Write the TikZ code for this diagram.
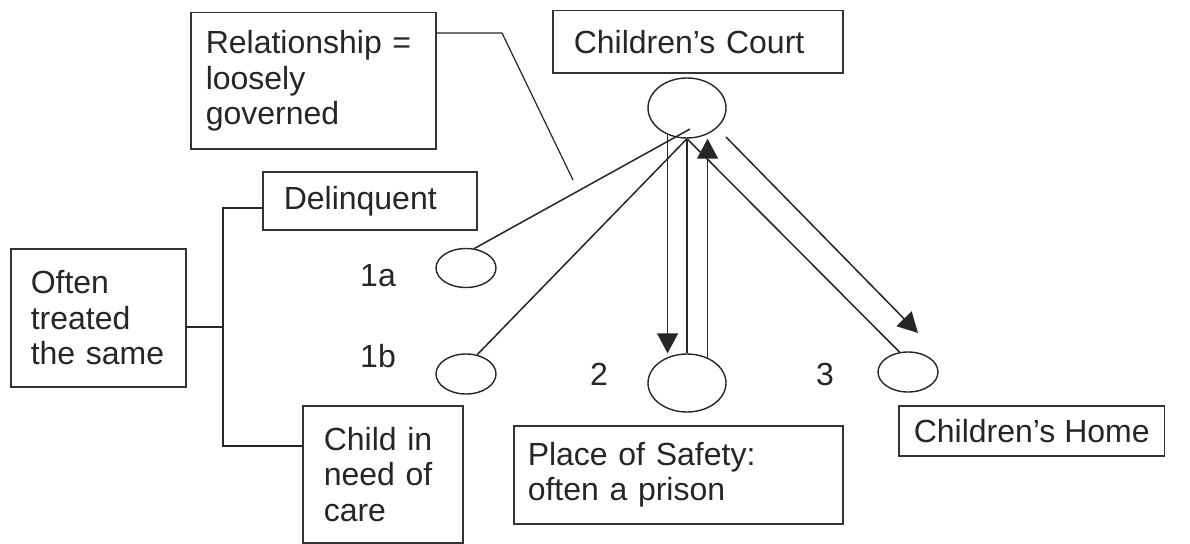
\documentclass[tikz,border=0pt]{standalone}
\usepackage{fontspec}
\setmainfont{Liberation Sans}
\usetikzlibrary{arrows.meta,shapes.geometric}
\begin{document}
\begin{tikzpicture}[x=1pt,y=-1pt,
  box/.style={draw=black!80, line width=1.5pt, rectangle, anchor=north west,
    align=left, inner ysep=0pt, text=black!85,
    font=\fontsize{32}{35.5}\selectfont},
  ell/.style={draw=black!85, line width=1.4pt, ellipse, inner sep=0pt},
  conn/.style={draw=black!85, line width=1.5pt},
  arr/.style={conn, -{Triangle[width=21pt,length=20pt]}},
  num/.style={text=black!85, font=\fontsize{32}{35.5}\selectfont}]
\useasboundingbox (0,0) rectangle (1190,543);

% text boxes
\node[box, minimum width=245, minimum height=136, inner xsep=15, text width=215] (rel) at (190,12)
  {Relationship =\\loosely\\governed};
\node[box, minimum width=290, minimum height=62, inner xsep=21, text width=248] (court) at (552,10)
  {Children's Court};
\node[box, minimum width=214, minimum height=58, inner xsep=21, text width=172] (delinq) at (262,171)
  {Delinquent};
\node[box, minimum width=175, minimum height=138, inner xsep=20, text width=135] (often) at (10,248)
  {Often\\treated\\the same};
\node[box, minimum width=160, minimum height=137, inner xsep=21, text width=118] (child) at (302,405)
  {Child in\\need of\\care};
\node[box, minimum width=329, minimum height=98, inner xsep=14, text width=301] (safety) at (513,425)
  {Place of Safety:\\often a prison};
\node[box, minimum height=50, inner xsep=15] (home) at (898,405)
  {Children's Home};

% ellipses
\node[ell, minimum width=78, minimum height=60] (ec) at (687,108) {};
\node[ell, minimum width=60, minimum height=39] (e1a) at (466,268) {};
\node[ell, minimum width=60, minimum height=40] (e1b) at (466,374) {};
\node[ell, minimum width=78, minimum height=58] (e2) at (687,383) {};
\node[ell, minimum width=60, minimum height=40] (e3) at (908,372) {};

% numbers
\node[num] (n1a) at (378,276) {1a};
\node[num] (n1b) at (378,356) {1b};
\node[num] (n2) at (599,374) {2};
\node[num] (n3) at (825,374) {3};

% relationship pointer
\coordinate (relknee) at (502,33);
\coordinate (relend) at (573,180);
\draw[conn, line width=1.2pt] (rel.east |- relknee) -- (relknee) -- (relend);

% bracket joining the two kinds of children
\coordinate (spine) at (223,327);
\coordinate (spinetop) at (223,208);
\coordinate (spinebot) at (223,446);
\draw[conn, line width=1.2pt] (often.east |- spine) -- (spine);
\draw[conn, line width=1.2pt] (delinq.west |- spinetop) -- (spinetop) -- (spinebot) -- (child.west |- spinebot);

% court links
\coordinate (hub1a) at (690,129);
\draw[conn] (hub1a) -- (e1a.67);
\draw[conn] (ec.south) -- (e1b.60);
\draw[arr] (ec.234) -- (ec.234 |- e2.north);
\draw[conn] (ec.south) -- (e2.north);
\draw[arr] (e2.51) -- (e2.51 |- ec.south);
\draw[conn] (ec.south) -- (e3.113);
\coordinate (homefrom) at (726,137);
\coordinate (hometo) at (918,333);
\draw[arr] (homefrom) -- (hometo);
\end{tikzpicture}
\end{document}
